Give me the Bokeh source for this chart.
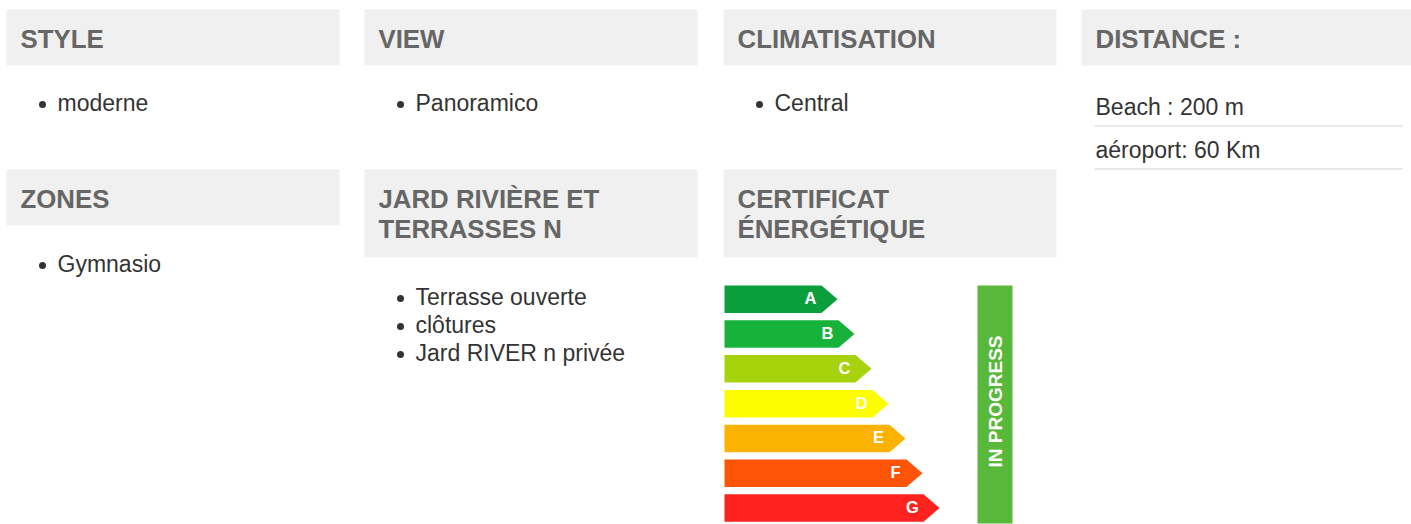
import math
from bokeh.plotting import figure
from bokeh.models import Range1d
from bokeh.core.properties import value
from bokeh.embed import file_html
from bokeh.resources import INLINE

# ---------------- data ----------------
HEADERS_ROW1 = [["STYLE"], ["VIEW"], ["CLIMATISATION"], ["DISTANCE :"]]
ITEMS_ROW1 = [["moderne"], ["Panoramico"], ["Central"]]
DISTANCES = ["Beach : 200 m", "aéroport: 60 Km"]
HEADERS_ROW2 = [["ZONES"], ["JARD RIVIÈRE ET", "TERRASSES N"], ["CERTIFICAT", "ÉNERGÉTIQUE"]]
ITEMS_ROW2 = [["Gymnasio"], ["Terrasse ouverte", "clôtures", "Jard RIVER n privée"]]
ENERGY_CLASSES = ["A", "B", "C", "D", "E", "F", "G"]
ENERGY_COLORS = ["#0a9e3c", "#17b23a", "#a6d30c", "#fdfd00", "#fbb200", "#fd5408", "#fd221e"]
ENERGY_STATUS = "IN PROGRESS"

# ---------------- layout constants ----------------
COL_LEFT = [6, 364, 723, 1081]
COL_W = 333
FONT = value("Liberation Sans")
HEAD_COLOR = "#666666"
BODY_COLOR = "#333333"
BOX_COLOR = "#f0f0f0"
HEAD_DY = -9   # correction of rendered text baseline
BODY_DY = -8

p = figure(width=1411, height=524, x_range=Range1d(0, 1411), y_range=Range1d(524, 0),
           output_backend="svg", toolbar_location=None, min_border=0,
           x_axis_type=None, y_axis_type=None, outline_line_color=None)
p.grid.visible = False
p.background_fill_color = "white"
p.border_fill_color = "white"


def header(col, top, bottom, lines, first_baseline):
    left = COL_LEFT[col]
    p.quad(left=[left], right=[left + COL_W], top=[top], bottom=[bottom],
           fill_color=BOX_COLOR, line_color=None)
    xs = [left + 14] * len(lines)
    ys = [first_baseline + HEAD_DY + 30 * i for i in range(len(lines))]
    p.text(x=xs, y=ys, text=lines, text_font=FONT, text_font_size="25.8px",
           text_font_style="bold", text_color=HEAD_COLOR, text_baseline="alphabetic")


def bullets(col, items, first_baseline, step=28):
    left = COL_LEFT[col]
    ys = [first_baseline + step * i for i in range(len(items))]
    p.scatter(x=[left + 36] * len(items), y=[y - 6 for y in ys], size=7,
              fill_color=BODY_COLOR, line_color=None)
    p.text(x=[left + 51] * len(items), y=[y + BODY_DY for y in ys], text=items, text_font=FONT,
           text_font_size="23px", text_color=BODY_COLOR, text_baseline="alphabetic")


# row 1
for c, lines in enumerate(HEADERS_ROW1):
    header(c, 9, 65, lines, 47)
for c, items in enumerate(ITEMS_ROW1):
    bullets(c, items, 110)

# distance list
dl = COL_LEFT[3]
d_base = [114 + BODY_DY, 157 + BODY_DY]
p.text(x=[dl + 14] * len(DISTANCES), y=d_base, text=DISTANCES, text_font=FONT,
       text_font_size="23px", text_color=BODY_COLOR, text_baseline="alphabetic")
p.segment(x0=[dl + 13] * 2, x1=[1402] * 2, y0=[125.5, 168.5], y1=[125.5, 168.5],
          line_color="#e8e8e8", line_width=2)

# row 2
header(0, 169, 225, HEADERS_ROW2[0], 207)
header(1, 169, 257, HEADERS_ROW2[1], 207)
header(2, 169, 257, HEADERS_ROW2[2], 207)
bullets(0, ITEMS_ROW2[0], 271)
bullets(1, ITEMS_ROW2[1], 304)

# energy label arrows
xs, ys, lx, ly = [], [], [], []
for i, cls in enumerate(ENERGY_CLASSES):
    top = 285 + 34.8 * i
    bot = top + 27.5
    body_r = 821 + 17 * i
    tip = body_r + 16
    xs.append([724, body_r, tip, body_r, 724])
    ys.append([top, top, (top + bot) / 2, bot, bot])
    lx.append(tip - 27)
    ly.append((top + bot) / 2 - 1)
p.patches(xs=xs, ys=ys, fill_color=ENERGY_COLORS, line_color=None)
p.text(x=lx, y=ly, text=ENERGY_CLASSES, text_font=FONT, text_font_size="16.5px",
       text_font_style="bold", text_color="white", text_align="center",
       text_baseline="middle")

# status bar
p.quad(left=[977], right=[1012], top=[285], bottom=[523], fill_color="#57b839", line_color=None)
p.text(x=[995], y=[401], text=[ENERGY_STATUS], angle=math.pi / 2, text_font=FONT,
       text_font_size="19px", text_font_style="bold", text_color="white",
       text_align="center", text_baseline="middle")

open("out.html", "w").write(file_html(p, INLINE))
